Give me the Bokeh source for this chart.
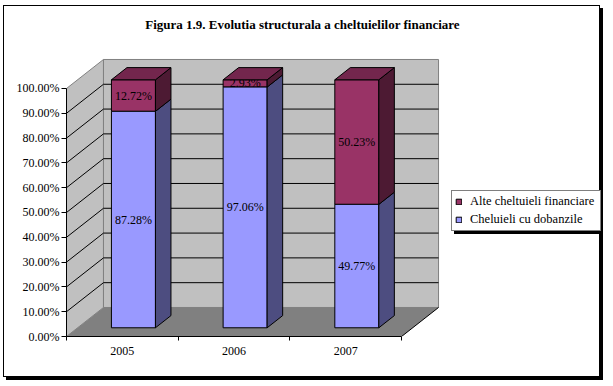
from bokeh.plotting import figure
from bokeh.models import Range1d, FixedTicker, Legend, LegendItem, Label
from bokeh.core.properties import value
from bokeh.embed import file_html
from bokeh.resources import INLINE

# ---- data -------------------------------------------------------------
categories = ["2005", "2006", "2007"]
cheltuieli_dobanzi = [87.28, 97.06, 49.77]      # Cheluieli cu dobanzile (%)
alte_cheltuieli = [12.72, 2.93, 50.23]          # Alte cheltuieli financiare (%)
series_names = ["Alte cheltuieli financiare", "Cheluieli cu dobanzile"]
y_ticks = [0, 10, 20, 30, 40, 50, 60, 70, 80, 90, 100]
y_tick_labels = ["0.00%", "10.00%", "20.00%", "30.00%", "40.00%", "50.00%",
                 "60.00%", "70.00%", "80.00%", "90.00%", "100.00%"]
title_text = "Figura 1.9. Evolutia structurala a cheltuielilor financiare"

# ---- style ------------------------------------------------------------
FONT = "Liberation Serif"
DX, DY = 0.331, 11.7          # depth of the 3-D box in data units
F0, F1 = 0.30, 0.72           # bar front / back position inside depth
BW = 0.394                    # bar width
XMAX = 4.79                   # frame extends under the legend
YTOP = 133.06                 # frame extends under the title
BLUE, BLUE_SIDE = "#9999FF", "#4D4D80"
MAROON, MAROON_SIDE, MAROON_TOP = "#993366", "#4D1A33", "#73264D"

n = len(categories)
ymax = max(y_ticks)

p = figure(width=597, height=372, output_backend="svg", toolbar_location=None,
           x_range=Range1d(0, XMAX), y_range=Range1d(0, YTOP),
           min_border_left=62, min_border_right=0, min_border_top=0,
           min_border_bottom=42, margin=(5, 0, 0, 3),
           styles={"border": "1px solid black", "box-shadow": "3px 3px 0px 0px black"})
p.xgrid.visible = False
p.ygrid.visible = False
p.outline_line_color = None
p.background_fill_color = "white"
p.border_fill_color = "white"

# title (inside the frame, above the 3-D box)
p.add_layout(Label(x=2.113, y=125.8, text=title_text, text_font=FONT,
                   text_font_style="bold", text_font_size="13px",
                   text_align="center", text_baseline="middle",
                   text_color="black"))

# ---- walls & floor -----------------------------------------------------
p.patch([0, DX, DX, 0], [0, DY, ymax + DY, ymax], fill_color="#C0C0C0",
        line_color="#808080", line_width=1)
p.patch([DX, n + DX, n + DX, DX], [DY, DY, ymax + DY, ymax + DY],
        fill_color="#C0C0C0", line_color="#808080", line_width=1)
p.patch([0, n, n + DX, DX], [0, 0, DY, DY], fill_color="#808080", line_color=None)
p.segment(x0=[n], y0=[0], x1=[n + DX], y1=[DY], line_color="black", line_width=1)

gv = y_ticks[1:-1]
p.segment(x0=[DX] * len(gv), y0=[v + DY for v in gv], x1=[n + DX] * len(gv),
          y1=[v + DY for v in gv], line_color="black", line_width=1)
p.segment(x0=[0] * len(gv), y0=gv, x1=[DX] * len(gv), y1=[v + DY for v in gv],
          line_color="black", line_width=1)

# ---- bars --------------------------------------------------------------
fx0, fy0 = F0 * DX, F0 * DY
fx1, fy1 = F1 * DX, F1 * DY
centers = [i + 0.5 for i in range(n)]
totals = [a + b for a, b in zip(cheltuieli_dobanzi, alte_cheltuieli)]

maroon_front = p.vbar(x=[c + fx0 for c in centers],
                      bottom=[d + fy0 for d in cheltuieli_dobanzi],
                      top=[t + fy0 for t in totals], width=BW,
                      fill_color=MAROON, line_color="black", line_width=1)
p.text(x=[c + fx0 for c in centers],
       y=[(d + t) / 2 + fy0 for d, t in zip(cheltuieli_dobanzi, totals)],
       text=[f"{v:.2f}%" for v in alte_cheltuieli], text_align="center",
       text_baseline="middle", text_font=value(FONT), text_font_size="12px",
       text_color="#000000")
blue_front = p.vbar(x=[c + fx0 for c in centers], bottom=[fy0] * n,
                    top=[d + fy0 for d in cheltuieli_dobanzi], width=BW,
                    fill_color=BLUE, line_color="black", line_width=1)


def side(c, b, t):
    xr = c + BW / 2
    return [xr + fx0, xr + fx1, xr + fx1, xr + fx0], [b + fy0, b + fy1, t + fy1, t + fy0]


bs = [side(c, 0, d) for c, d in zip(centers, cheltuieli_dobanzi)]
p.patches([s[0] for s in bs], [s[1] for s in bs], fill_color=BLUE_SIDE,
          line_color="black", line_width=1)
ms = [side(c, d, t) for c, d, t in zip(centers, cheltuieli_dobanzi, totals)]
p.patches([s[0] for s in ms], [s[1] for s in ms], fill_color=MAROON_SIDE,
          line_color="black", line_width=1)
tops_x = [[c - BW / 2 + fx0, c + BW / 2 + fx0, c + BW / 2 + fx1, c - BW / 2 + fx1]
          for c in centers]
tops_y = [[t + fy0, t + fy0, t + fy1, t + fy1] for t in totals]
p.patches(tops_x, tops_y, fill_color=MAROON_TOP, line_color="black", line_width=1)

p.text(x=[c + fx0 for c in centers], y=[d / 2 + fy0 for d in cheltuieli_dobanzi],
       text=[f"{v:.2f}%" for v in cheltuieli_dobanzi], text_align="center",
       text_baseline="middle", text_font=value(FONT), text_font_size="12px",
       text_color="#000000")

# ---- axes --------------------------------------------------------------
ya = p.yaxis[0]
ya.ticker = FixedTicker(ticks=y_ticks)
ya.major_label_overrides = {t: l for t, l in zip(y_ticks, y_tick_labels)}
ya.bounds = (0, ymax)
ya.axis_line_color = "black"
ya.major_tick_line_color = "black"
ya.major_tick_in = 0
ya.major_tick_out = 5
ya.minor_tick_line_color = None
ya.major_label_standoff = 2
ya.major_label_text_font = FONT
ya.major_label_text_font_size = "12px"
ya.major_label_text_color = "black"

xa = p.xaxis[0]
xa.ticker = FixedTicker(ticks=centers, minor_ticks=list(range(n + 1)))
xa.major_label_overrides = {c: l for c, l in zip(centers, categories)}
xa.bounds = (0, n)
xa.axis_line_color = "black"
xa.major_tick_line_color = None
xa.major_tick_in = 0
xa.major_tick_out = 0
xa.minor_tick_line_color = "black"
xa.minor_tick_in = 0
xa.minor_tick_out = 4
xa.major_label_standoff = 6
xa.major_label_text_font = FONT
xa.major_label_text_font_size = "12px"
xa.major_label_text_color = "black"

# ---- legend (with a drop shadow made of a blank black legend) ---------
LEG_X, LEG_Y = 385, 105
common = dict(padding=3, spacing=3, glyph_width=7, glyph_height=7,
              label_standoff=8, label_height=14, label_width=127,
              label_text_font=FONT, label_text_font_size="12.5px", margin=0,
              border_line_width=1)
shadow = Legend(items=[LegendItem(label=" ", renderers=[maroon_front]),
                       LegendItem(label=" ", renderers=[blue_front])],
                location=(LEG_X + 3, LEG_Y - 3), background_fill_color="black",
                background_fill_alpha=1, border_line_color="black",
                label_text_color="black", **common)
legend = Legend(items=[LegendItem(label=series_names[0], renderers=[maroon_front]),
                       LegendItem(label=series_names[1], renderers=[blue_front])],
                location=(LEG_X, LEG_Y), background_fill_color="white",
                background_fill_alpha=1, border_line_color="black",
                label_text_color="black", **common)
p.add_layout(shadow, "center")
p.add_layout(legend, "center")

open("out.html", "w").write(file_html(p, INLINE))
